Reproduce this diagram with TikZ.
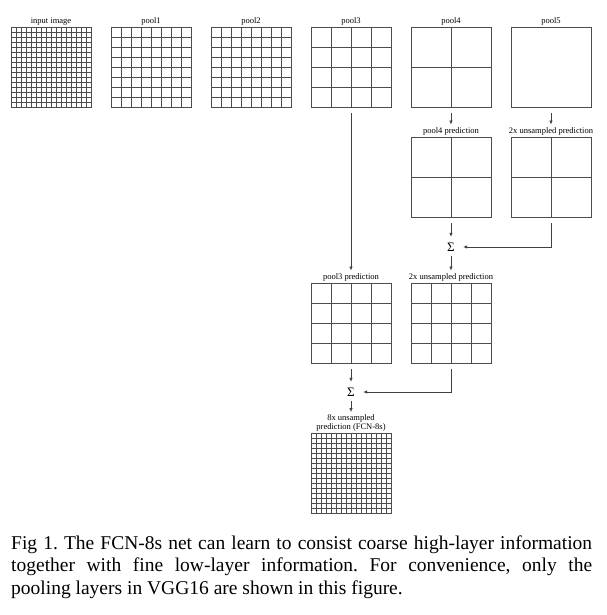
\documentclass[tikz,border=0pt]{standalone}
\usepackage{fontspec}
\setmainfont{Liberation Serif}
\usetikzlibrary{positioning,calc,arrows.meta}

\tikzset{
  fmap/.style={draw=black!70, line width=0.7pt, minimum size=80pt, inner sep=0pt,
    path picture={
      \foreach \k in {0,...,#1} {
        \draw[black!70, line width=0.7pt]
          ($(path picture bounding box.north west)!{\k/#1}!(path picture bounding box.north east)$) --
          ($(path picture bounding box.south west)!{\k/#1}!(path picture bounding box.south east)$);
        \draw[black!70, line width=0.7pt]
          ($(path picture bounding box.north west)!{\k/#1}!(path picture bounding box.south west)$) --
          ($(path picture bounding box.north east)!{\k/#1}!(path picture bounding box.south east)$);
      }
    }},
  lbl/.style={inner sep=0.5pt, font=\fontsize{8.5}{9}\selectfont},
  sumnode/.style={minimum width=22pt, minimum height=16pt, inner sep=0pt,
    font=\fontsize{13}{14}\selectfont},
  arr/.style={-{Latex[length=4pt,width=3.5pt]}, black!75, line width=0.7pt,
    shorten <=6pt, shorten >=2pt},
}

\begin{document}
\begin{tikzpicture}[x=1pt, y=-1pt]
    \useasboundingbox (0,0) rectangle (606,615);
    % pooling layers
    \node[fmap=16] (img) at (51,67) {};
    \node[fmap=8] (pool1) at (151,67) {};
    \node[fmap=8] (pool2) at (251,67) {};
    \node[fmap=4] (pool3) at (351,67) {};
    \node[fmap=2] (pool4) at (451,67) {};
    \node[fmap=1] (pool5) at (551,67) {};
    \node[lbl, above=1pt of img] (imgl) {input image};
    \node[lbl, above=1pt of pool1] (pool1l) {pool1};
    \node[lbl, above=1pt of pool2] (pool2l) {pool2};
    \node[lbl, above=1pt of pool3] (pool3l) {pool3};
    \node[lbl, above=1pt of pool4] (pool4l) {pool4};
    \node[lbl, above=1pt of pool5] (pool5l) {pool5};
    % predictions
    \node[fmap=2] (predfour) at (451,177) {};
    \node[fmap=2] (upfive) at (551,177) {};
    \node[lbl, above=1pt of predfour] (predfourl) {pool4 prediction};
    \node[lbl, above=1pt of upfive] (upfivel) {2x unsampled prediction};
    \node[sumnode] (sumone) at (451,247) {Σ};
    \node[fmap=4] (predthree) at (351,323) {};
    \node[fmap=4] (upfour) at (451,323) {};
    \node[lbl, above=1pt of predthree] (predthreel) {pool3 prediction};
    \node[lbl, above=1pt of upfour] (upfourl) {2x unsampled prediction};
    \node[sumnode] (sumtwo) at (351,392) {Σ};
    \node[fmap=16] (fcn) at (351,473.5) {};
    \node[lbl, above=1pt of fcn, align=center] (fcnl) {8x unsampled\\prediction (FCN-8s)};
    % connectors
    \draw[arr] (pool4) -- (predfourl);
    \draw[arr] (pool5) -- (upfivel);
    \draw[arr] (pool3) -- (predthreel);
    \draw[arr] (predfour) -- (sumone);
    \draw[arr, shorten >=1pt] (upfive) |- (sumone);
    \draw[arr, shorten <=1pt] (sumone) -- (upfourl);
    \draw[arr] (predthree) -- (sumtwo);
    \draw[arr, shorten >=1pt] (upfour) |- (sumtwo);
    \draw[arr, shorten <=1pt] (sumtwo) -- (fcnl);
    % caption
    \node[anchor=north west, text width=581pt, align=justify, inner sep=0pt,
      font=\fontsize{19.5}{22.5}\selectfont\frenchspacing] (cap) at (11,535.5)
      {\hyphenpenalty=10000\relax
       Fig 1. The FCN-8s net can learn to consist coarse high-layer information\linebreak
       together with fine low-layer information. For convenience, only the\linebreak
       pooling layers in VGG16 are shown in this figure.};
\end{tikzpicture}
\end{document}
